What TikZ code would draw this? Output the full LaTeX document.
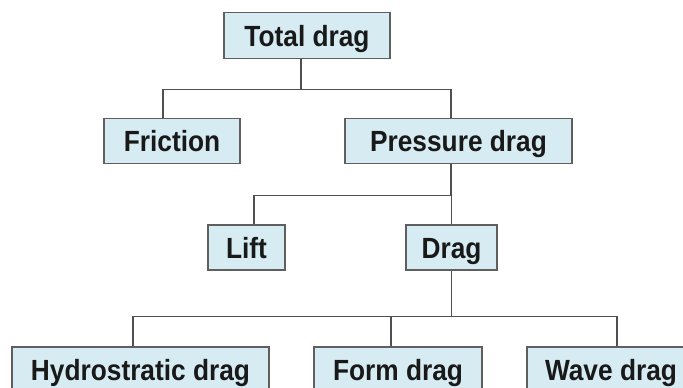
\documentclass[tikz,border=0pt]{standalone}
\usepackage{fontspec}
\setmainfont{Liberation Sans}
\newfontfamily\boxfont[FakeStretch=0.9]{Liberation Sans}
\definecolor{boxfill}{RGB}{214,236,242}
\definecolor{boxline}{RGB}{95,95,95}
\definecolor{linkgray}{RGB}{80,80,80}
\tikzset{
  dragbox/.style={draw=boxline,line width=0.8pt,fill=boxfill,inner sep=0pt,
    minimum height=22.5pt,text height=10.5pt,text depth=0pt,
    font=\boxfont\fontsize{14.6}{17}\selectfont\bfseries,text=black!90},
  link/.style={draw=linkgray,line width=0.6pt}
}
\begin{document}
\begin{tikzpicture}[x=0.5pt,y=-0.5pt]
	\useasboundingbox (0,0) rectangle (683,387);
	\clip (0,0) rectangle (683,387);
	\node[dragbox,minimum width=83pt,minimum height=23pt] (total) at (307,35.5) {Total drag};
	\node[dragbox,minimum width=68pt] (friction) at (172,141) {Friction};
	\node[dragbox,minimum width=113.5pt] (pressure) at (458.5,141) {Pressure drag};
	\node[dragbox,minimum width=38.5pt] (lift) at (246.5,247.5) {Lift};
	\node[dragbox,minimum width=45.5pt] (dragn) at (451.5,247.5) {Drag};
	\node[dragbox,minimum width=128.5pt] (hydro) at (140.5,369.5) {Hydrostratic drag};
	\node[dragbox,minimum width=84pt] (form) at (398,369.5) {Form drag};
	\node[dragbox,minimum width=84pt] (wave) at (611,369.5) {Wave drag};
	% connectors
	\draw[link] ([xshift=-3pt]total.south) -- ++(0,-15pt) -| ([xshift=-4.5pt]friction.north);
	\draw[link] ([xshift=-3pt]total.south) -- ++(0,-15pt) -| ([xshift=-3.75pt]pressure.north);
	\draw[link] ([xshift=-3.75pt]pressure.south) -- ++(0,-15.5pt) -| ([xshift=3.75pt]lift.north);
	\draw[link] ([xshift=-3.75pt]pressure.south) -- ++(0,-15.5pt) -| (dragn.north);
	\draw[link] (dragn.south) -- ++(0,-23pt) -| ([xshift=-3.75pt]hydro.north);
	\draw[link] (dragn.south) -- ++(0,-23pt) -| ([xshift=-3.5pt]form.north);
	\draw[link] (dragn.south) -- ++(0,-23pt) -| ([xshift=3pt]wave.north);
\end{tikzpicture}
\end{document}
